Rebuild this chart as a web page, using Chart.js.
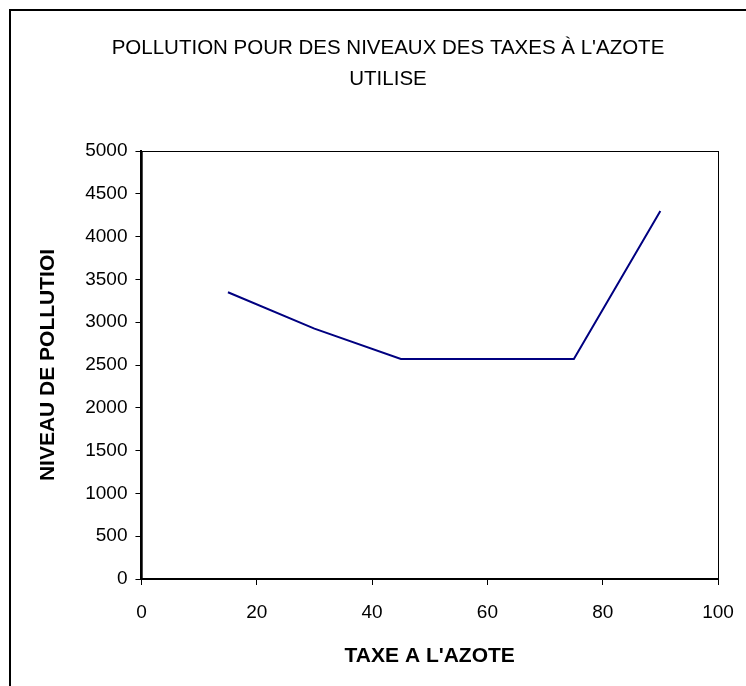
<!DOCTYPE html>
<html>
<head>
    <title>Pollution / taxes azote</title>
    <script src="https://cdn.jsdelivr.net/npm/chart.js"></script>
    <style>
        body { margin: 0; background: #fff; overflow: hidden; }
        #wrap { position: relative; width: 746px; height: 686px; }
        #frame {
            position: absolute; left: 9px; top: 9px;
            width: 800px; height: 800px;
            border: 2px solid #000;
        }
        canvas { position: absolute; left: 0; top: 0; }
    </style>
</head>
<body>
    <div id="wrap">
        <div id="frame"></div>
        <canvas id="chart" width="746" height="686"></canvas>
    </div>
    <script>
        const taxe = [15, 30, 45, 60, 75, 90];
        const pollution = [3350, 2925, 2570, 2570, 2570, 4300];
        const titleLines = ["POLLUTION POUR DES NIVEAUX DES TAXES À L'AZOTE", 'UTILISE'];

        // title centred on the outer frame, not on the canvas
        const chartTitle = {
            id: 'chartTitle',
            afterDraw(chart) {
                const ctx = chart.ctx;
                ctx.save();
                ctx.fillStyle = '#000';
                ctx.font = '20.5px "Liberation Sans"';
                ctx.textAlign = 'center';
                ctx.textBaseline = 'middle';
                titleLines.forEach((t, i) => ctx.fillText(t, 388, 48 + i * 31));
                ctx.restore();
            }
        };

        // frame round the plot area
        const plotFrame = {
            id: 'plotFrame',
            afterDraw(chart) {
                const a = chart.chartArea;
                const ctx = chart.ctx;
                ctx.save();
                ctx.strokeStyle = '#000';
                ctx.lineWidth = 1;
                ctx.strokeRect(a.left + 0.5, a.top + 0.5, a.right - a.left, a.bottom - a.top);
                ctx.lineWidth = 2;
                ctx.beginPath();
                ctx.moveTo(a.left, a.top);
                ctx.lineTo(a.left, a.bottom);
                ctx.lineTo(a.right, a.bottom);
                ctx.stroke();
                ctx.restore();
            }
        };

        new Chart(document.getElementById('chart'), {
            type: 'line',
            data: {
                datasets: [{
                    data: taxe.map((x, i) => ({ x: x, y: pollution[i] })),
                    borderColor: '#000080',
                    borderWidth: 2,
                    pointRadius: 0,
                    fill: false,
                    tension: 0
                }]
            },
            options: {
                responsive: false,
                animation: false,
                layout: { padding: { left: 36, right: 28, top: 151, bottom: 17 } },
                plugins: {
                    legend: { display: false },
                    tooltip: { enabled: false },
                    title: { display: false }
                },
                scales: {
                    x: {
                        type: 'linear',
                        min: 0, max: 100,
                        afterFit: s => { s.paddingRight = 0; },
                        ticks: { stepSize: 20, color: '#000', padding: 16, font: { family: 'Liberation Sans', size: 19 },
                                 callback: v => String(v) },
                        grid: { drawOnChartArea: false, color: '#000', tickLength: 6 },
                        border: { color: '#000', width: 2 },
                        title: {
                            display: true, text: "TAXE A L'AZOTE", color: '#000',
                            font: { family: 'Liberation Sans', size: 21, weight: 'bold' },
                            padding: { top: 4, bottom: 0 }
                        }
                    },
                    y: {
                        min: 0, max: 5000,
                        ticks: { stepSize: 500, color: '#000', padding: 8, font: { family: 'Liberation Sans', size: 19 },
                                 callback: v => String(v) },
                        grid: { drawOnChartArea: false, color: '#000', tickLength: 6 },
                        border: { color: '#000', width: 2 },
                        title: {
                            display: true, text: 'NIVEAU DE POLLUTIOI', color: '#000',
                            font: { family: 'Liberation Sans', size: 21, weight: 'bold' },
                            padding: { top: 0, bottom: 16 }
                        }
                    }
                }
            },
            plugins: [plotFrame, chartTitle]
        });
    </script>
</body>
</html>
